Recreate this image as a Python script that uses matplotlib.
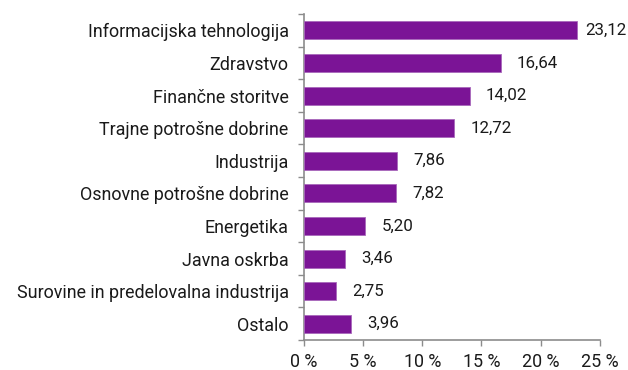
import matplotlib
matplotlib.use("Agg")
import matplotlib.pyplot as plt
import numpy as np

categories = [
    "Informacijska tehnologija",
    "Zdravstvo",
    "Finančne storitve",
    "Trajne potrošne dobrine",
    "Industrija",
    "Osnovne potrošne dobrine",
    "Energetika",
    "Javna oskrba",
    "Surovine in predelovalna industrija",
    "Ostalo",
]
values = [23.12, 16.64, 14.02, 12.72, 7.86, 7.82, 5.20, 3.46, 2.75, 3.96]
x_ticks = [0, 5, 10, 15, 20, 25]

plt.rcParams["font.family"] = ["Roboto", "DejaVu Sans"]
text_color = "#1a1a1a"
axis_color = "#8c8c8c"
bar_color = "#7b1496"
fs = 12.9
fs_val = 12.2

fig = plt.figure(figsize=(6.28, 3.70), dpi=100)
ax = fig.add_axes([0.484, 0.081, 0.471, 0.881])

y = np.arange(len(categories))
ax.barh(y, values, height=0.55, color=bar_color, edgecolor="#a868bb", linewidth=0.6, zorder=3)

ax.set_xlim(0, 25)
ax.set_ylim(len(categories) - 0.5, -0.5)
ax.set_xticks(x_ticks)
ax.set_xticklabels([f"{t} %" for t in x_ticks], fontsize=fs, color=text_color)
ax.set_yticks(y)
ax.set_yticklabels(categories, fontsize=fs, color=text_color)
ax.set_yticks(np.arange(-0.5, len(categories) + 0.5, 1), minor=True)

ax.tick_params(axis="y", which="major", length=0, pad=11)
ax.tick_params(axis="y", which="minor", length=4, width=1, color=axis_color, direction="out")
ax.tick_params(axis="x", which="major", length=4, width=1, color=axis_color, direction="out", pad=5)

for s in ["top", "right"]:
    ax.spines[s].set_visible(False)
for s in ["left", "bottom"]:
    ax.spines[s].set_color(axis_color)
    ax.spines[s].set_linewidth(1.2)

# value labels sit 16 px past the bar end, pulled in when they would leave the figure
fig.canvas.draw()
renderer = fig.canvas.get_renderer()
fig_w = fig.bbox.width
for yi, v in zip(y, values):
    t = ax.annotate(f"{v:.2f}".replace(".", ","), xy=(v, yi), xytext=(16, 0),
                    textcoords="offset pixels", va="center", ha="left",
                    fontsize=fs_val, color=text_color)
    bb = t.get_window_extent(renderer)
    if bb.x1 > fig_w - 1:
        t.xyann = (max(7, 16 - (bb.x1 - (fig_w - 1))), 0)

fig.savefig("out.png", dpi=100)
